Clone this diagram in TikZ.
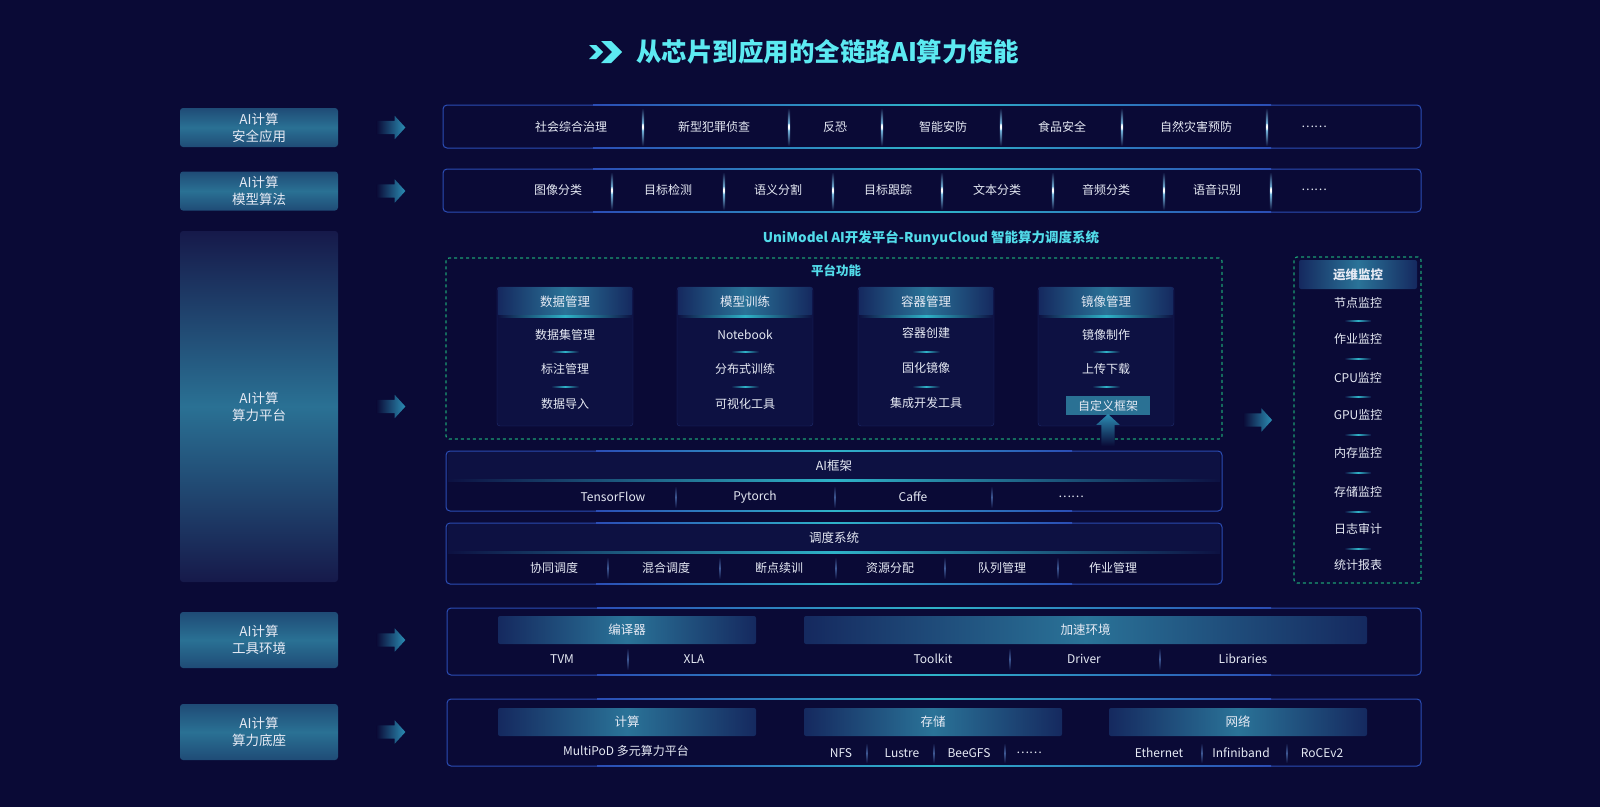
\documentclass[tikz,border=0pt]{standalone}
\usepackage{fontspec}
\setmainfont{Noto Sans CJK SC}
\usetikzlibrary{positioning,calc,shapes.arrows}

\definecolor{bgnavy}{HTML}{0A0A36}
\definecolor{rowblue}{HTML}{2B4DB5}
\definecolor{glowteal}{HTML}{2FB3C8}
\definecolor{lblteal}{HTML}{2A7194}
\definecolor{lbldark}{HTML}{1F4B76}
\definecolor{bigdark}{HTML}{16194A}
\definecolor{bandteal}{HTML}{2A7398}
\definecolor{banddark}{HTML}{15295F}
\definecolor{subfill}{HTML}{0D1142}
\definecolor{subline}{HTML}{1F2D6E}
\definecolor{dashgreen}{HTML}{1C9C72}
\definecolor{titlecyan}{HTML}{5CEAF2}
\definecolor{subcyan}{HTML}{52DCEA}
\definecolor{txtgrey}{HTML}{E6EAF4}
\definecolor{sepblue}{HTML}{8AD8FF}
\definecolor{sepdim}{HTML}{3E5894}
\definecolor{arrhead}{HTML}{2B8DB4}

\newcommand{\arrcore}{\phantom{\rule{13pt}{13pt}}}

\tikzset{
  txt/.style={text=txtgrey, inner sep=0pt, font=\fontsize{12}{14}\selectfont},
  lblbox/.style={rounded corners=3pt, top color=lbldark, bottom color=lbldark, middle color=lblteal,
    text=txtgrey, align=center, font=\fontsize{13.5}{17}\selectfont,
    minimum width=158, minimum height=39, inner sep=0pt},
  rowbox/.style={draw=rowblue, line width=1pt, rounded corners=4pt, inner sep=0pt, outer sep=0pt},
  band/.style={left color=banddark, right color=banddark, middle color=bandteal, rounded corners=2pt,
    text=txtgrey, inner sep=0pt, font=\fontsize{12.5}{14}\selectfont},
  subbox/.style={draw=subline, fill=subfill, rounded corners=3pt, minimum width=136,
    minimum height=139, inner sep=0pt},
  dashbox/.style={draw=dashgreen, dashed, line width=1.2pt, rounded corners=3pt, inner sep=0pt},
  fatarrow/.style={single arrow, single arrow head extend=5, single arrow tip angle=95,
    minimum height=29, inner sep=0pt,
    left color=bgnavy, middle color=lblteal!70!bgnavy, right color=arrhead},
  uparrow/.style={single arrow, single arrow head extend=5, single arrow tip angle=95,
    shape border rotate=90, minimum height=32, inner sep=0pt,
    top color=arrhead, middle color=lblteal!55!bgnavy, bottom color=bgnavy},
  vsep/.style={top color=bgnavy, bottom color=bgnavy, middle color=sepblue},
  dimsep/.style={top color=bgnavy, bottom color=bgnavy, middle color=sepdim},
  hsep/.style={left color=subfill, right color=subfill, middle color=glowteal},
  glowline/.style={left color=rowblue, right color=rowblue, middle color=glowteal}
}

\begin{document}
\begin{tikzpicture}[x=1pt,y=-1pt]
% Background
\fill[bgnavy] (0,0) rectangle (1600,807);
\useasboundingbox (0,0) rectangle (1600,807);

% Title
\fill[titlecyan] (589,45) -- (596,45) -- (603,52) -- (596,59) -- (589,59) -- (596,52) -- cycle;
\fill[titlecyan] (601,41) -- (611,41) -- (622,52) -- (611,63) -- (601,63) -- (612,52) -- cycle;
\node[anchor=west, text=titlecyan, inner sep=0pt, font=\fontsize{25.5}{30}\selectfont\bfseries] (title) at (636,52) {从芯片到应用的全链路AI算力使能};

% Left labels
\node[lblbox] (lbl1) at (259,127.5) {AI计算\\安全应用};
\node[lblbox] (lbl2) at (259,191) {AI计算\\模型算法};
\node[lblbox, minimum height=351, top color=bigdark, bottom color=bigdark, middle color=lblteal] (lbl3) at (259,406.5) {AI计算\\算力平台};
\node[lblbox, minimum height=56] (lbl4) at (259,640) {AI计算\\工具环境};
\node[lblbox, minimum height=56] (lbl5) at (259,732) {AI计算\\算力底座};

% Arrows
\node[fatarrow, right=38pt of lbl1] (arr1) {\arrcore};
\node[fatarrow, right=38pt of lbl2] (arr2) {\arrcore};
\node[fatarrow, right=38pt of lbl3] (arr3) {\arrcore};
\node[fatarrow, right=38pt of lbl4] (arr4) {\arrcore};
\node[fatarrow, right=38pt of lbl5] (arr5) {\arrcore};

% Boxes
\node[rowbox, minimum width=978, minimum height=43] (row1) at (932,126.5) {};
\node[rowbox, minimum width=978, minimum height=43] (row2) at (932,190.5) {};
\node[rowbox, minimum width=776, minimum height=60] (fw) at (834,481) {};
\node[rowbox, minimum width=776, minimum height=61] (sch) at (834,553.5) {};
\node[rowbox, minimum width=974, minimum height=67] (tool) at (934,641.5) {};
\node[rowbox, minimum width=974, minimum height=67] (base) at (934,732.5) {};
\foreach \b in {row1,row2,fw,sch,tool,base} {
  \shade[glowline] ($(\b.north west)+(150,-0.5)$) rectangle ($(\b.north east)+(-150,0.5)$);
  \shade[glowline] ($(\b.south west)+(150,-0.5)$) rectangle ($(\b.south east)+(-150,0.5)$);
}

% Row 1 and 2
\foreach \t/\x [count=\i] in {社会综合治理/571, 新型犯罪侦查/714, 反恐/835, 智能安防/943, 食品安全/1062, 自然灾害预防/1196, ……/1314}
  \node[txt] (app\i) at (\x,127) {\t};
\foreach \t/\x [count=\i] in {图像分类/558, 目标检测/668, 语义分割/778, 目标跟踪/888, 文本分类/997, 音频分类/1106, 语音识别/1217, ……/1314}
  \node[txt] (alg\i) at (\x,190) {\t};
\foreach \x in {643,789,882,1001,1122,1267} {
  \shade[vsep] (\x-1.1,108) rectangle (\x+1.1,146);
  \fill[white] (\x,127) ellipse (0.9 and 3.5);
}
\foreach \x in {612,724,833,942,1053,1164,1271} {
  \shade[vsep] (\x-1.1,172) rectangle (\x+1.1,210);
  \fill[white] (\x,190.5) ellipse (0.9 and 3.5);
}

% Platform
\node[text=subcyan, inner sep=0pt, font=\fontsize{13.5}{16}\selectfont\bfseries] (subttl) at (931,238) {UniModel AI开发平台-RunyuCloud 智能算力调度系统};
\node[dashbox, minimum width=776, minimum height=181] (plat) at (834,348.5) {};
\node[text=subcyan, inner sep=0pt, font=\fontsize{12.5}{14}\selectfont\bfseries] (platttl) at (836,271) {平台功能};

\node[subbox] (data) at (565,356.5) {};
\node[subbox] (train) at (745,356.5) {};
\node[subbox] (cont) at (926,356.5) {};
\node[subbox] (mirr) at (1106,356.5) {};
\node[band, minimum width=134, minimum height=29] (datah) at (565,301.5) {数据管理};
\node[band, minimum width=134, minimum height=29] (trainh) at (745,301.5) {模型训练};
\node[band, minimum width=134, minimum height=29] (conth) at (926,301.5) {容器管理};
\node[band, minimum width=134, minimum height=29] (mirrh) at (1106,301.5) {镜像管理};
\foreach \h in {datah,trainh,conth,mirrh}
  \shade[hsep] ($(\h.south west)+(0,-0.8)$) rectangle ($(\h.south east)+(0,0.8)$);

\node[txt] (dat1) at (565,335) {数据集管理};
\node[txt] (dat2) at (565,369) {标注管理};
\node[txt] (dat3) at (565,404) {数据导入};
\node[txt] (tra1) at (745,335) {Notebook};
\node[txt] (tra2) at (745,369) {分布式训练};
\node[txt] (tra3) at (745,404) {可视化工具};
\node[txt] (con1) at (926,333) {容器创建};
\node[txt] (con2) at (926,368) {固化镜像};
\node[txt] (con3) at (926,403) {集成开发工具};
\node[txt] (mir1) at (1106,335) {镜像制作};
\node[txt] (mir2) at (1106,369) {上传下载};
\node[txt, fill=lblteal, minimum width=84, minimum height=19] (cust) at (1108,405.5) {自定义框架};
\foreach \x in {565,745,926,1106} {
  \shade[hsep] (\x-14,351.4) rectangle (\x+14,352.8);
  \shade[hsep] (\x-14,386.4) rectangle (\x+14,387.8);
}
\node[uparrow] (up) at ($(cust.south)!0.5!(cust.south |- fw.north)$) {\arrcore};

% AI framework
\node[band, anchor=north, minimum width=772, minimum height=28, left color=subfill, right color=subfill] (fwh) at ($(fw.north)+(0,1)$) {AI框架};
\shade[hsep] ($(fwh.south west)+(0,-0.6)$) rectangle ($(fwh.south east)+(0,0.6)$);
\node[txt] (fw1) at (613,497) {TensorFlow};
\node[txt] (fw2) at (755,497) {Pytorch};
\node[txt] (fw3) at (913,497) {Caffe};
\node[txt] (fw4) at (1071,497) {……};
\foreach \x in {676,835,992}
  \shade[dimsep] (\x-0.6,486) rectangle (\x+0.6,508);

% Scheduling
\node[band, anchor=north, minimum width=772, minimum height=28, left color=subfill, right color=subfill] (schh) at ($(sch.north)+(0,1)$) {调度系统};
\shade[hsep] ($(schh.south west)+(0,-0.6)$) rectangle ($(schh.south east)+(0,0.6)$);
\foreach \t/\x [count=\i] in {协同调度/554, 混合调度/666, 断点续训/779, 资源分配/890, 队列管理/1002, 作业管理/1113}
  \node[txt] (sch\i) at (\x,568) {\t};
\foreach \x in {608,720,836,945,1058}
  \shade[dimsep] (\x-0.6,557) rectangle (\x+0.6,579);

% Tool environment
\node[band, minimum width=258, minimum height=28] (comp) at (627,630) {编译器};
\node[band, minimum width=563, minimum height=28] (accel) at (1085.5,630) {加速环境};
\node[txt] (tvm) at (562,659) {TVM};
\node[txt] (xla) at (694,659) {XLA};
\node[txt] (tk) at (933,659) {Toolkit};
\node[txt] (drv) at (1084,659) {Driver};
\node[txt] (libs) at (1243,659) {Libraries};
\foreach \x in {628,1010,1160}
  \shade[dimsep] (\x-0.6,648) rectangle (\x+0.6,670);

% Base
\node[band, minimum width=258, minimum height=28] (calc) at (627,722) {计算};
\node[band, minimum width=258, minimum height=28] (stor) at (933,722) {存储};
\node[band, minimum width=258, minimum height=28] (net) at (1238,722) {网络};
\node[txt] (mpod) at (626,751) {MultiPoD 多元算力平台};
\foreach \t/\x [count=\i] in {NFS/841, Lustre/902, BeeGFS/969, ……/1029}
  \node[txt] (st\i) at (\x,753) {\t};
\foreach \t/\x [count=\i] in {Ethernet/1159, Infiniband/1241, RoCEv2/1322}
  \node[txt] (nt\i) at (\x,753) {\t};
\foreach \x in {867,934,1005,1202,1287}
  \shade[dimsep] (\x-0.6,743) rectangle (\x+0.6,763);

% Monitoring
\node[dashbox, minimum width=127, minimum height=326] (mon) at (1357.5,420) {};
\node[band, minimum width=118, minimum height=29, font=\fontsize{12.5}{14}\selectfont\bfseries] (monh) at (1358,274.5) {运维监控};
\foreach \t/\y [count=\i] in {节点监控/303, 作业监控/339, CPU监控/378, GPU监控/415, 内存监控/453, 存储监控/492, 日志审计/529, 统计报表/565}
  \node[txt] (mon\i) at (1358,\y) {\t};
\foreach \y in {321,359,397,435,473,512,549}
  \shade[hsep] (1345,\y-0.7) rectangle (1371,\y+0.7);
\node[fatarrow, left=21pt of mon] (arr6) {\arrcore};
\end{tikzpicture}
\end{document}
